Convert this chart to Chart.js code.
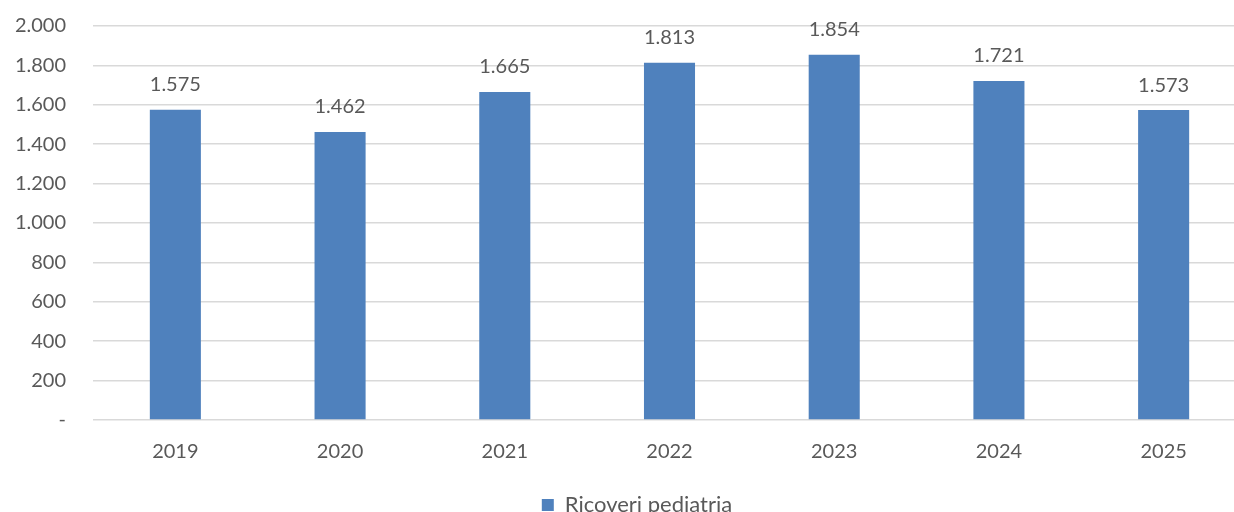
<!DOCTYPE html>
<html>
<head>
<meta charset="utf-8">
<script src="https://cdn.jsdelivr.net/npm/chart.js@4/dist/chart.umd.min.js"></script>
<style>
  html, body { margin: 0; padding: 0; background: #fff; overflow: hidden; }
  #wrap { width: 1246px; height: 526px; }
</style>
</head>
<body>
<div id="wrap"><canvas id="ricoveriChart" width="1246" height="526"></canvas></div>
<script>
const anni = ['2019', '2020', '2021', '2022', '2023', '2024', '2025'];
const ricoveri = [1575, 1462, 1665, 1813, 1854, 1721, 1573];
const ASSE_MAX = 2000;
const ASSE_PASSO = 200;

const COLORE_BARRA = '#4F81BD';
const COLORE_TESTO = '#595959';
const COLORE_GRIGLIA = '#D9D9D9';
const FONT = 'Lato, "Open Sans", sans-serif';

// separatore delle migliaia con il punto, trattino per lo zero
function formatta(n) {
  if (n === 0) return '-';
  return String(n).replace(/\B(?=(\d{3})+(?!\d))/g, '.');
}

// etichette dei valori sopra le barre
const etichetteValori = {
  id: 'etichetteValori',
  afterDatasetsDraw(chart) {
    const ctx = chart.ctx;
    ctx.save();
    ctx.font = '20px ' + FONT;
    ctx.fillStyle = COLORE_TESTO;
    ctx.textAlign = 'center';
    ctx.textBaseline = 'middle';
    chart.getDatasetMeta(0).data.forEach((bar, i) => {
      ctx.fillText(formatta(ricoveri[i]), bar.x, bar.y - 25);
    });
    ctx.restore();
  }
};

// sposta un po' la legenda verso destra
const spostaLegenda = {
  id: 'spostaLegenda',
  afterLayout(chart) {
    chart.legend.left += 14;
    chart.legend.right += 14;
  }
};

new Chart(document.getElementById('ricoveriChart'), {
  type: 'bar',
  data: {
    labels: anni,
    datasets: [{
      label: 'Ricoveri pediatria',
      data: ricoveri,
      backgroundColor: COLORE_BARRA,
      barPercentage: 0.31,
      categoryPercentage: 1
    }]
  },
  options: {
    responsive: false,
    animation: false,
    layout: { padding: 0 },
    plugins: {
      legend: {
        position: 'bottom',
        labels: {
          color: COLORE_TESTO,
          font: { family: FONT, size: 22 },
          boxWidth: 12,
          boxHeight: 12,
          padding: 8
        }
      },
      tooltip: { enabled: false }
    },
    scales: {
      x: {
        grid: { display: false },
        border: { display: false },
        ticks: { color: COLORE_TESTO, font: { family: FONT, size: 20 }, padding: 12 },
        afterFit(scale) { scale.height = 66; }
      },
      y: {
        min: 0,
        max: ASSE_MAX,
        grid: { color: COLORE_GRIGLIA, lineWidth: 1.5, drawTicks: false },
        border: { display: false },
        ticks: {
          stepSize: ASSE_PASSO,
          color: COLORE_TESTO,
          font: { family: FONT, size: 20 },
          padding: 27,
          callback: (v) => formatta(v)
        },
        afterFit(scale) {
          scale.width = 93;
          scale.paddingTop = 26;
          scale.paddingBottom = 0;
        }
      }
    }
  },
  plugins: [etichetteValori, spostaLegenda]
});
</script>
</body>
</html>
